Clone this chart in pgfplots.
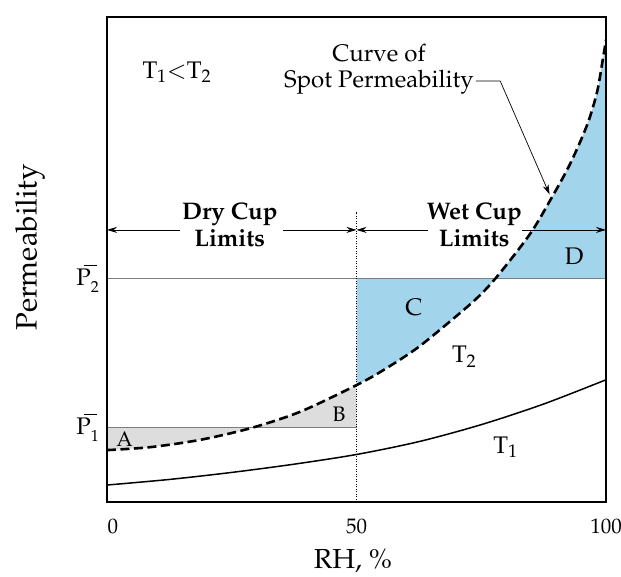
\documentclass[border=0pt]{standalone}
\usepackage[T1]{fontenc}
\usepackage{mathpazo}
\usepackage{pgfplots}
\usepackage{pgfplotstable}
\pgfplotsset{compat=1.18}
\usepgfplotslibrary{fillbetween}
\usetikzlibrary{arrows.meta}
\definecolor{wetblue}{RGB}{162,212,236}
\definecolor{drygray}{RGB}{221,221,221}
\definecolor{limgray}{RGB}{125,125,125}

\newcommand{\pbar}[1]{P\rlap{\hspace{-0.3em}\rule[0.8em]{0.55em}{0.05em}}\raisebox{-0.32em}{\fontsize{16}{16}\selectfont #1}}

\pgfplotstableread{
x y
0 10.7
8.6 11.3
18.6 12.8
28.7 15.2
38.7 18.6
50 24.1
55.4 27.2
62.1 31.7
68.7 37.2
74.1 42.0
78.1 46.4
84.8 55.3
89.2 62.9
92.8 69.7
96.2 77.7
98.2 84.5
99.4 91.5
100 95.3
}\spotdata

\pgfplotstableread{
x y
0 3.5
12.5 4.65
25 6.1
37.5 7.8
50 9.8
62.5 12.45
75 15.95
87.5 20.2
100 25.2
}\tonedata

\begin{document}
\fontsize{24}{28}\selectfont
\begin{tikzpicture}
\begin{axis}[
  scale only axis, width=499pt, height=485pt,
  xmin=0, xmax=100, ymin=0, ymax=100,
  axis on top,
  axis line style={line width=1.6pt},
  xtick={0,50,100},
  xticklabels={\hspace*{12pt}0,50,100},
  ytick={15.3,46},
  yticklabels={\pbar{1},\pbar{2}},
  major tick length=0pt,
  tick style={draw=none},
  xticklabel style={font=\fontsize{21}{24}\selectfont, yshift=-8.7pt},
  yticklabel style={font=\fontsize{24}{28}\selectfont},
  xlabel={RH, \%},
  ylabel={Permeability},
  xlabel style={font=\fontsize{27.5}{30}\selectfont, inner sep=0pt, at={(axis description cs:0.493,-0.123)}, anchor=center},
  ylabel style={font=\fontsize{29.5}{32}\selectfont, at={(axis description cs:-0.154,0.525)}, anchor=center},
]
% invisible named paths
\addplot[name path=spot, draw=none, smooth] table {\spotdata};
\addplot[name path=pone, draw=none] coordinates {(0,15.3) (50,15.3)};
\addplot[name path=ptwo, draw=none] coordinates {(0,46) (100,46)};
% fills
\addplot[fill=drygray, draw=none] fill between[of=spot and pone, soft clip={domain=0:50}];
\addplot[fill=wetblue, draw=none] fill between[of=spot and ptwo, soft clip={domain=50:100}];
% reference lines
\addplot[limgray, line width=1pt] coordinates {(0,15.3) (50,15.3)};
\addplot[limgray, line width=1pt] coordinates {(0,46) (100,46)};
\addplot[black, line width=0.8pt, dash pattern=on 1pt off 1.5pt] coordinates {(50,0) (50,59.8)};
% curves
\addplot[black, line width=1.5pt, smooth] table {\tonedata};
\addplot[black, line width=2.6pt, dash pattern=on 9pt off 4.5pt, smooth] table {\spotdata};
% limit arrows
\addplot[black, line width=0.8pt, -{Stealth[length=10pt,width=6pt]}] coordinates {(14.6,56.1) (0,56.1)};
\addplot[black, line width=0.8pt, -{Stealth[length=10pt,width=6pt]}] coordinates {(35.3,56.1) (50,56.1)};
\addplot[black, line width=0.8pt, -{Stealth[length=10pt,width=6pt]}] coordinates {(64.3,56.1) (50,56.1)};
\addplot[black, line width=0.8pt, -{Stealth[length=10pt,width=6pt]}] coordinates {(83.2,56.1) (100,56.1)};
% leader to the curve
\addplot[black, line width=0.7pt, -{Stealth[length=10pt,width=6pt]}] coordinates {(73.9,86.8) (78.8,86.8) (88.7,63.4)};
% texts
\node[font=\fontsize{24}{26}\selectfont, align=center] at (axis cs:54.5,89.2) {Curve of\\Spot Permeability};
\node[font=\fontsize{24}{27}\selectfont\bfseries, align=center] at (axis cs:24.6,57.1) {Dry Cup\\Limits};
\node[font=\fontsize{24}{27}\selectfont\bfseries, align=center] at (axis cs:73.6,57.1) {Wet Cup\\Limits};
\node[anchor=base, inner sep=0pt] at (axis cs:14,87.4) {$\mathrm{T}_{1}{<}\mathrm{T}_{2}$};
\node[anchor=base, inner sep=0pt, font=\fontsize{21}{24}\selectfont] at (axis cs:3.5,11.5) {A};
\node[anchor=base, inner sep=0pt, font=\fontsize{21}{24}\selectfont] at (axis cs:46.5,16.5) {B};
\node[anchor=base, inner sep=0pt] at (axis cs:61.5,38.4) {C};
\node[anchor=base, inner sep=0pt] at (axis cs:93.6,48.9) {D};
\node[anchor=base west, inner sep=0pt] at (axis cs:69.1,28.7) {$\mathrm{T}_{2}$};
\node[anchor=base west, inner sep=0pt] at (axis cs:77.4,10.1) {$\mathrm{T}_{1}$};
\end{axis}
\pgfresetboundingbox
\path[use as bounding box] (current axis.south west) ++(-107pt,-74pt) rectangle ++(621pt,576pt);
\end{tikzpicture}
\end{document}
